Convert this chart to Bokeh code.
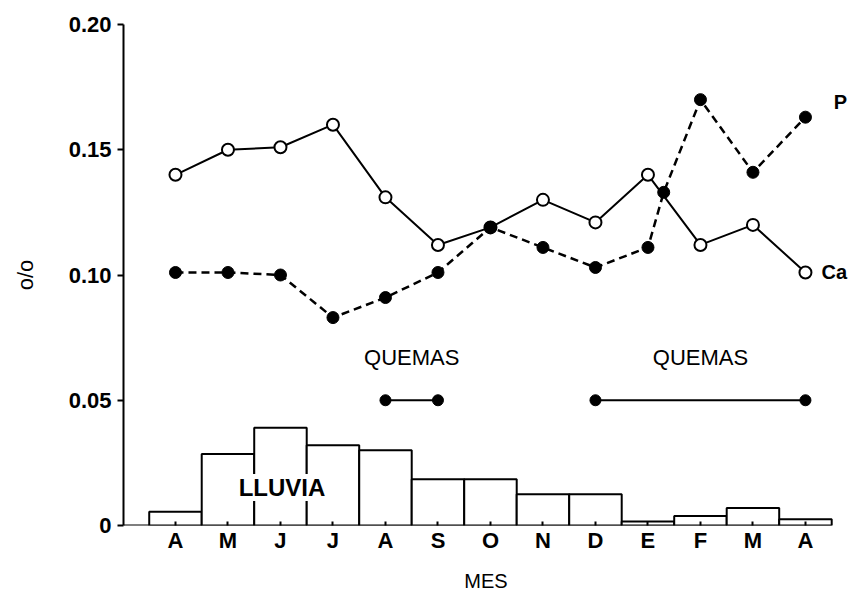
from bokeh.plotting import figure
from bokeh.models import Label, FixedTicker, Range1d
from bokeh.embed import file_html
from bokeh.resources import INLINE

# ---- data ----
months = ["A", "M", "J", "J", "A", "S", "O", "N", "D", "E", "F", "M", "A"]
month_pos = list(range(len(months)))

ca_values = [0.140, 0.150, 0.151, 0.160, 0.131, 0.112, 0.119, 0.130, 0.121, 0.140, 0.112, 0.120, 0.101]

p_pos = [0, 1, 2, 3, 4, 5, 6, 7, 8, 9, 9.3, 10, 11, 12]
p_values = [0.101, 0.101, 0.100, 0.083, 0.091, 0.101, 0.119, 0.111, 0.103, 0.111, 0.133, 0.170, 0.141, 0.163]

rain = [0.0055, 0.0285, 0.039, 0.032, 0.030, 0.0185, 0.0185, 0.0125, 0.0125, 0.0016, 0.0038, 0.007, 0.0025]

quemas_start = [4, 8]
quemas_end = [5, 12]
quemas_level = 0.05

y_ticks = [0, 0.05, 0.10, 0.15, 0.20]
y_tick_labels = ["0", "0.05", "0.10", "0.15", "0.20"]

FONT = "Liberation Sans"

x_start = -0.99
x_end = 12.82

p = figure(width=848, height=594, x_range=Range1d(x_start, x_end), y_range=Range1d(0, 0.20),
           output_backend="svg", toolbar_location=None,
           min_border_left=123, min_border_right=0, min_border_top=24, min_border_bottom=69)
p.grid.visible = False
p.outline_line_color = None
p.background_fill_color = "white"
p.border_fill_color = "white"

# y axis
yax = p.yaxis[0]
yax.ticker = FixedTicker(ticks=y_ticks)
yax.major_label_overrides = {t: l for t, l in zip(y_ticks, y_tick_labels)}
yax.minor_tick_line_color = None
yax.major_tick_out = 6
yax.major_tick_in = 0
yax.axis_line_width = 2
yax.major_tick_line_width = 2
yax.major_label_text_font = FONT
yax.major_label_text_font_style = "bold"
yax.major_label_text_font_size = "22px"
yax.major_label_text_color = "black"
yax.major_label_standoff = 6
yax.axis_label = "o/o"
yax.axis_label_text_font = FONT
yax.axis_label_text_font_style = "normal"
yax.axis_label_text_font_size = "22px"
yax.axis_label_text_color = "black"
yax.axis_label_standoff = 28

# x axis (its own line hidden; the baseline is drawn up to the last bar)
xax = p.xaxis[0]
xax.ticker = FixedTicker(ticks=month_pos)
xax.major_label_overrides = {i: m for i, m in zip(month_pos, months)}
xax.minor_tick_line_color = None
xax.axis_line_color = None
xax.major_tick_out = 0
xax.major_tick_in = 4
xax.major_tick_line_width = 2
xax.major_label_text_font = FONT
xax.major_label_text_font_style = "bold"
xax.major_label_text_font_size = "22px"
xax.major_label_text_color = "black"
xax.major_label_text_line_height = 1.0
xax.major_label_standoff = 2
xax.axis_label = "MES"
xax.axis_label_text_font = FONT
xax.axis_label_text_font_style = "normal"
xax.axis_label_text_font_size = "20px"
xax.axis_label_text_color = "black"
xax.axis_label_text_line_height = 1.0
xax.axis_label_standoff = 14

p.segment(x0=[x_start], y0=[0], x1=[month_pos[-1] + 0.5], y1=[0], line_color="black", line_width=2)

# rainfall bars
p.vbar(x=month_pos, top=rain, bottom=0, width=1, fill_color="white",
       line_color="black", line_width=2)

# Ca: solid line, open circles
p.line(month_pos, ca_values, line_color="black", line_width=2)
p.scatter(month_pos, ca_values, size=12, fill_color="white", line_color="black", line_width=2)

# P: dashed line, filled circles
p.line(p_pos, p_values, line_color="black", line_width=2.5, line_dash="8 5")
p.scatter(p_pos, p_values, size=12, fill_color="black", line_color="black")

# burning periods
p.segment(x0=quemas_start, y0=[quemas_level] * len(quemas_start),
          x1=quemas_end, y1=[quemas_level] * len(quemas_end),
          line_color="black", line_width=2)
p.scatter(quemas_start + quemas_end, [quemas_level] * (2 * len(quemas_start)),
          size=11, fill_color="black", line_color="black")
for s, e in zip(quemas_start, quemas_end):
    p.add_layout(Label(x=(s + e) / 2, y=quemas_level, y_offset=43, text="QUEMAS",
                       text_align="center", text_baseline="middle",
                       text_font=FONT, text_font_size="22px", text_color="black"))

p.add_layout(Label(x=2.03, y=0.0152, text="LLUVIA", text_align="center",
                   text_baseline="middle", text_font=FONT, text_font_style="bold",
                   text_font_size="24px", text_color="black",
                   background_fill_color="white"))

p.add_layout(Label(x=month_pos[-1], y=p_values[-1], x_offset=35, y_offset=15, text="P",
                   text_align="center", text_baseline="middle", text_font=FONT,
                   text_font_style="bold", text_font_size="20px", text_color="black"))
p.add_layout(Label(x=month_pos[-1], y=ca_values[-1], x_offset=16, text="Ca",
                   text_align="left", text_baseline="middle", text_font=FONT,
                   text_font_style="bold", text_font_size="20px", text_color="black"))

open("out.html", "w").write(file_html(p, INLINE))
